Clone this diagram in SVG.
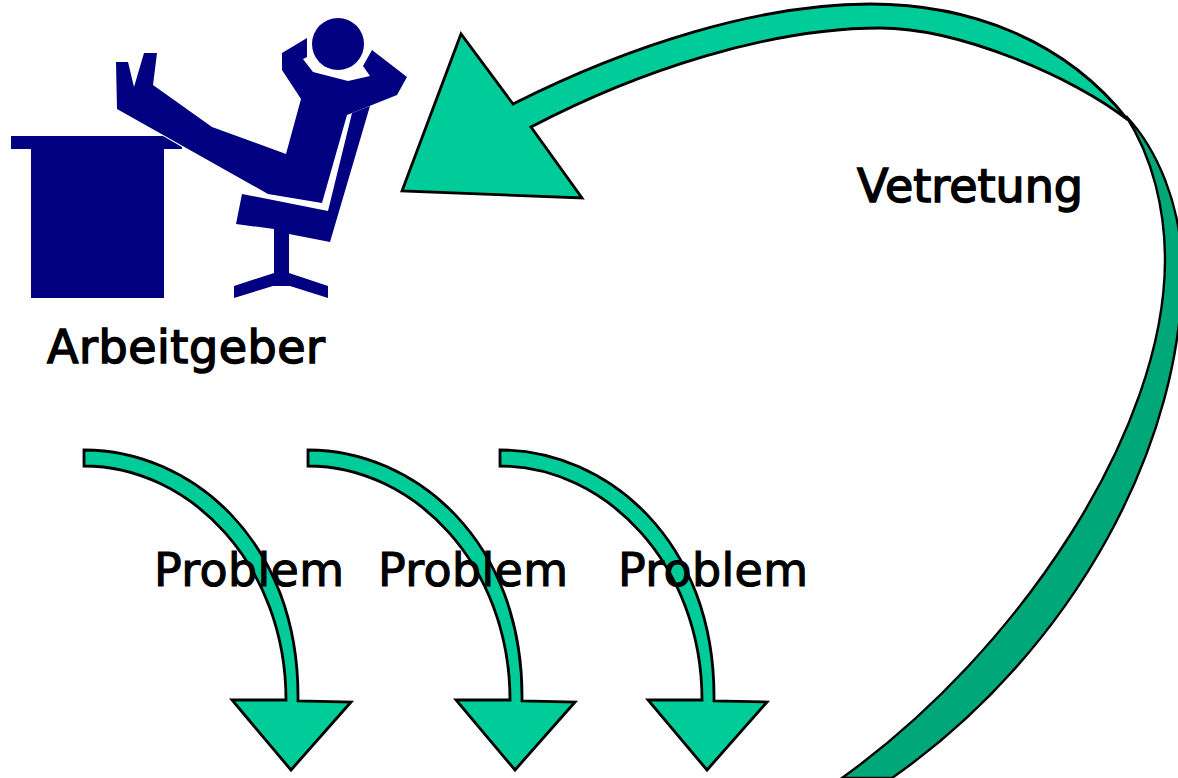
<svg xmlns="http://www.w3.org/2000/svg" width="1178" height="778" viewBox="0 0 1178 778">
<style>
.fig{fill:#000080;stroke:none}
.arrow{fill:#00cc99;stroke:#000;stroke-width:2.8;stroke-linejoin:miter}
.back{fill:#00a779;stroke:#000;stroke-width:2.4}
.t{font-family:"DejaVu Sans","Noto Sans",sans-serif;font-size:46px;fill:#000;stroke:#000;stroke-width:1.1}
.b{stroke-width:1.5}
</style>
<rect width="1178" height="778" fill="#fff"/>
<g id="connectors">
<path class="back" d="M1126 116C1158 150 1180 205 1182 262C1186 440 1075 650 892 778L842 778C1020 650 1165 430 1165 260C1165 210 1153 158 1126 116Z"/>
<path class="arrow" d="M402 191L461 34L513 104C630 45 760 4 870 4C970 4 1065 40 1128 120C1075 78 960 28 880 28C770 28 640 70 531 127L582 198Z"/>
<path id="p1" class="arrow" d="M84 450C190 450 300 540 298 701L351 702L291 770L232 700L286 700C286 565 190 466 84 466Z"/>
<path id="p2" class="arrow" d="M308 450C414 450 524 540 522 701L575 702L515 770L456 700L510 700C510 565 414 466 308 466Z"/>
<path id="p3" class="arrow" d="M500 450C606 450 716 540 714 701L767 702L707 770L648 700L702 700C702 565 606 466 500 466Z"/>
</g>
<g id="arbeitgeber">
<path class="fig" d="M11 136H163L182 147V149H164V298H31V149H11Z"/>
<circle class="fig" cx="338" cy="44" r="26"/>
<path class="fig" d="M116 62H128L134 87L144 53H157L153 85L212 127L286 154L301 99L282 70V53L307 38V57L303 59L313 72L348 81L370 76L363 66L372 50L407 77L397 95L347 115L322 203L268 194L117 109Z"/>
<path class="fig" d="M242 194L328 211L352 113L370 106L330 242L289 234V273L328 286V298L290 286H273L234 298V286L274 273V229L236 224Z"/>
</g>
<g id="labels">
<text class="t b" x="47" y="363" textLength="278">Arbeitgeber</text>
<text class="t b" x="857" y="202" textLength="226">Vetretung</text>
<text class="t" x="154" y="586" textLength="190">Problem</text>
<text class="t" x="378" y="586" textLength="190">Problem</text>
<text class="t" x="618" y="586" textLength="190">Problem</text>
</g>
</svg>
